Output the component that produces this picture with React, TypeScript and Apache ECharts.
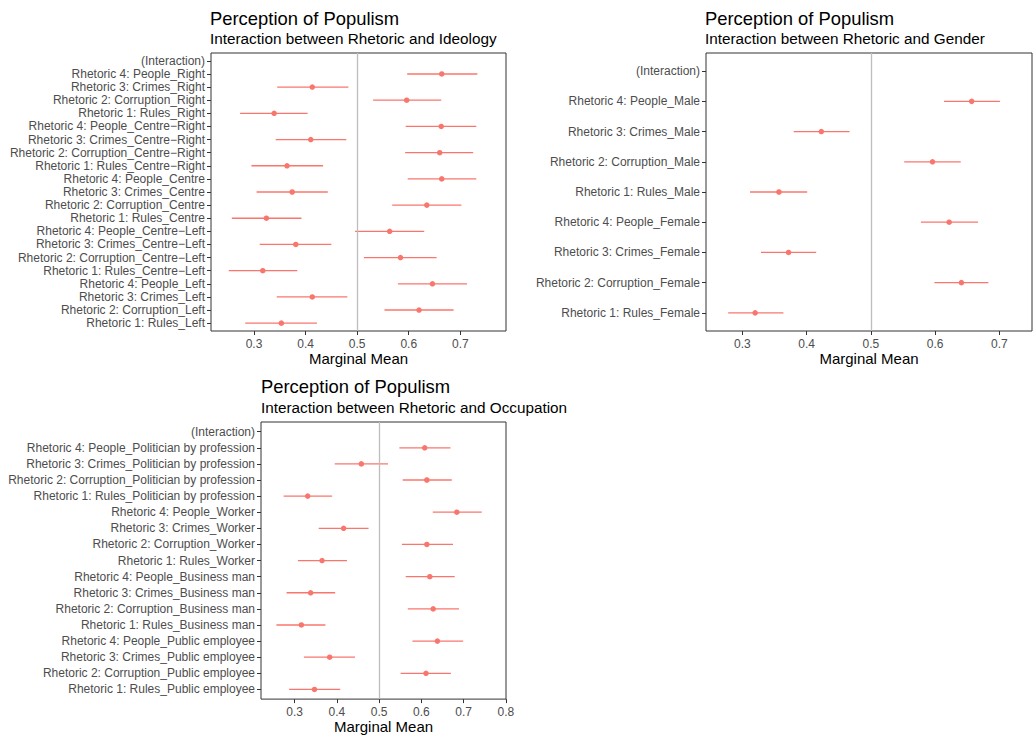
import React, { useEffect, useRef } from "react";
import * as echarts from "echarts";

// ---------- Panel 1: Rhetoric x Ideology ----------
const ideologyCats = [
  "(Interaction)",
  "Rhetoric 4: People_Right",
  "Rhetoric 3: Crimes_Right",
  "Rhetoric 2: Corruption_Right",
  "Rhetoric 1: Rules_Right",
  "Rhetoric 4: People_Centre\u2212Right",
  "Rhetoric 3: Crimes_Centre\u2212Right",
  "Rhetoric 2: Corruption_Centre\u2212Right",
  "Rhetoric 1: Rules_Centre\u2212Right",
  "Rhetoric 4: People_Centre",
  "Rhetoric 3: Crimes_Centre",
  "Rhetoric 2: Corruption_Centre",
  "Rhetoric 1: Rules_Centre",
  "Rhetoric 4: People_Centre\u2212Left",
  "Rhetoric 3: Crimes_Centre\u2212Left",
  "Rhetoric 2: Corruption_Centre\u2212Left",
  "Rhetoric 1: Rules_Centre\u2212Left",
  "Rhetoric 4: People_Left",
  "Rhetoric 3: Crimes_Left",
  "Rhetoric 2: Corruption_Left",
  "Rhetoric 1: Rules_Left",
];
const ideologyEst = [null, 0.664, 0.413, 0.596, 0.339, 0.663, 0.41, 0.66, 0.364, 0.664, 0.374, 0.635, 0.324, 0.563, 0.381, 0.584, 0.317, 0.646, 0.413, 0.62, 0.353];
const ideologyLo = [null, 0.597, 0.345, 0.531, 0.273, 0.594, 0.342, 0.593, 0.295, 0.598, 0.305, 0.568, 0.257, 0.496, 0.311, 0.513, 0.251, 0.579, 0.344, 0.553, 0.283];
const ideologyHi = [null, 0.733, 0.483, 0.663, 0.404, 0.731, 0.479, 0.725, 0.434, 0.731, 0.443, 0.702, 0.392, 0.63, 0.45, 0.654, 0.384, 0.713, 0.481, 0.687, 0.422];

// ---------- Panel 2: Rhetoric x Gender ----------
const genderCats = [
  "(Interaction)",
  "Rhetoric 4: People_Male",
  "Rhetoric 3: Crimes_Male",
  "Rhetoric 2: Corruption_Male",
  "Rhetoric 1: Rules_Male",
  "Rhetoric 4: People_Female",
  "Rhetoric 3: Crimes_Female",
  "Rhetoric 2: Corruption_Female",
  "Rhetoric 1: Rules_Female",
];
const genderEst = [null, 0.657, 0.423, 0.596, 0.357, 0.622, 0.372, 0.641, 0.32];
const genderLo = [null, 0.614, 0.38, 0.552, 0.312, 0.578, 0.329, 0.599, 0.278];
const genderHi = [null, 0.701, 0.467, 0.64, 0.401, 0.667, 0.415, 0.683, 0.364];

// ---------- Panel 3: Rhetoric x Occupation ----------
const occupationCats = [
  "(Interaction)",
  "Rhetoric 4: People_Politician by profession",
  "Rhetoric 3: Crimes_Politician by profession",
  "Rhetoric 2: Corruption_Politician by profession",
  "Rhetoric 1: Rules_Politician by profession",
  "Rhetoric 4: People_Worker",
  "Rhetoric 3: Crimes_Worker",
  "Rhetoric 2: Corruption_Worker",
  "Rhetoric 1: Rules_Worker",
  "Rhetoric 4: People_Business man",
  "Rhetoric 3: Crimes_Business man",
  "Rhetoric 2: Corruption_Business man",
  "Rhetoric 1: Rules_Business man",
  "Rhetoric 4: People_Public employee",
  "Rhetoric 3: Crimes_Public employee",
  "Rhetoric 2: Corruption_Public employee",
  "Rhetoric 1: Rules_Public employee",
];
const occupationEst = [null, 0.608, 0.458, 0.613, 0.331, 0.684, 0.416, 0.613, 0.365, 0.62, 0.338, 0.628, 0.316, 0.638, 0.383, 0.611, 0.347];
const occupationLo = [null, 0.548, 0.395, 0.556, 0.274, 0.627, 0.357, 0.554, 0.308, 0.563, 0.281, 0.568, 0.257, 0.579, 0.322, 0.551, 0.287];
const occupationHi = [null, 0.669, 0.521, 0.672, 0.389, 0.743, 0.475, 0.675, 0.424, 0.679, 0.396, 0.689, 0.373, 0.699, 0.443, 0.67, 0.408];

// tick labels
const ticks1 = [0.3, 0.4, 0.5, 0.6, 0.7];
const ticks2 = [0.3, 0.4, 0.5, 0.6, 0.7];
const ticks3 = [0.3, 0.4, 0.5, 0.6, 0.7, 0.8];

const TITLE = "Perception of Populism";
const SUB1 = "Interaction between Rhetoric and Ideology";
const SUB2 = "Interaction between Rhetoric and Gender";
const SUB3 = "Interaction between Rhetoric and Occupation";
const XNAME = "Marginal Mean";

const RED = "#F8766D";
const FONT = "'Liberation Sans', Arial, Helvetica, sans-serif";

function panelSeries(i: number, est: (number | null)[], lo: (number | null)[], hi: (number | null)[]) {
  const bars: number[][] = [];
  const pts: number[][] = [];
  est.forEach((v, k) => {
    if (v == null) return;
    bars.push([lo[k] as number, hi[k] as number, k]);
    pts.push([v, k]);
  });
  return [
    {
      type: "line",
      xAxisIndex: i,
      yAxisIndex: i,
      data: [],
      silent: true,
      markLine: {
        silent: true,
        symbol: ["none", "none"],
        label: { show: false },
        lineStyle: { color: "#BEBEBE", width: 1.3, type: "solid" },
        data: [{ xAxis: 0.5 }],
      },
    },
    {
      type: "custom",
      xAxisIndex: i,
      yAxisIndex: i,
      data: bars,
      encode: { x: [0, 1], y: 2 },
      renderItem: (params: any, api: any) => {
        const a = api.coord([api.value(0), api.value(2)]);
        const b = api.coord([api.value(1), api.value(2)]);
        return {
          type: "line",
          shape: { x1: a[0], y1: a[1], x2: b[0], y2: b[1] },
          style: { stroke: RED, lineWidth: 1.3 },
        };
      },
      z: 3,
    },
    {
      type: "scatter",
      xAxisIndex: i,
      yAxisIndex: i,
      data: pts,
      symbol: "circle",
      symbolSize: 5.5,
      itemStyle: { color: RED, opacity: 1 },
      z: 4,
    },
  ];
}

function xAxisFor(i: number, min: number, max: number, ticks: number[]) {
  return {
    type: "value",
    gridIndex: i,
    position: "bottom",
    min,
    max,
    axisLine: { show: false, onZero: false },
    splitLine: { show: false },
    axisTick: { show: true, length: 4, lineStyle: { color: "#333333" }, customValues: ticks },
    axisLabel: {
      color: "#4D4D4D",
      fontSize: 12,
      margin: 7,
      customValues: ticks,
      formatter: (v: number) => v.toFixed(1),
    },
    name: XNAME,
    nameLocation: "middle",
    nameGap: 19,
    nameTextStyle: { fontSize: 15, color: "#000000" },
  };
}

// discrete axis drawn as a value axis with ggplot's 0.6-unit padding at both ends
function yAxisFor(i: number, cats: string[]) {
  const idx = cats.map((_, k) => k);
  return {
    type: "value",
    gridIndex: i,
    position: "left",
    min: -0.6,
    max: cats.length - 1 + 0.6,
    inverse: true,
    axisLine: { show: false, onZero: false },
    splitLine: { show: false },
    axisTick: { show: true, length: 4, lineStyle: { color: "#333333" }, customValues: idx },
    axisLabel: {
      color: "#4D4D4D",
      fontSize: 12,
      margin: 6,
      customValues: idx,
      formatter: (v: number) => cats[Math.round(v)] ?? "",
    },
  };
}

function titleText(x: number, y: number, text: string, size: number) {
  return {
    type: "text",
    x,
    y,
    silent: true,
    style: {
      text,
      fill: "#000000",
      fontSize: size,
      fontFamily: FONT,
      align: "left",
      verticalAlign: "middle",
    },
  };
}

export default function App() {
  const ref = useRef<HTMLDivElement>(null);
  useEffect(() => {
    if (!ref.current) return;
    const chart = echarts.init(ref.current, null, { renderer: "svg" });
    const gridStyle = { show: true, borderColor: "#333333", borderWidth: 1, backgroundColor: "transparent", containLabel: false };
    chart.setOption({
      animation: false,
      backgroundColor: "#ffffff",
      textStyle: { fontFamily: FONT },
      grid: [
        { left: 211, top: 53, width: 295, height: 278, ...gridStyle },
        { left: 706, top: 53, width: 326, height: 278, ...gridStyle },
        { left: 261, top: 422, width: 245, height: 278, ...gridStyle },
      ],
      xAxis: [
        xAxisFor(0, 0.2166, 0.7886, ticks1),
        xAxisFor(1, 0.2435, 0.7509, ticks2),
        xAxisFor(2, 0.2205, 0.8004, ticks3),
      ],
      yAxis: [yAxisFor(0, ideologyCats), yAxisFor(1, genderCats), yAxisFor(2, occupationCats)],
      series: [
        ...panelSeries(0, ideologyEst, ideologyLo, ideologyHi),
        ...panelSeries(1, genderEst, genderLo, genderHi),
        ...panelSeries(2, occupationEst, occupationLo, occupationHi),
      ],
      graphic: [
        titleText(210, 18, TITLE, 18.4),
        titleText(210, 38.5, SUB1, 15.3),
        titleText(705, 18, TITLE, 18.4),
        titleText(705, 38.5, SUB2, 15.3),
        titleText(261, 386, TITLE, 18.4),
        titleText(261, 407.5, SUB3, 15.3),
      ],
    });
    return () => chart.dispose();
  }, []);
  return <div ref={ref} style={{ position: "absolute", left: 0, top: 0, width: 1034, height: 735 }} />;
}
